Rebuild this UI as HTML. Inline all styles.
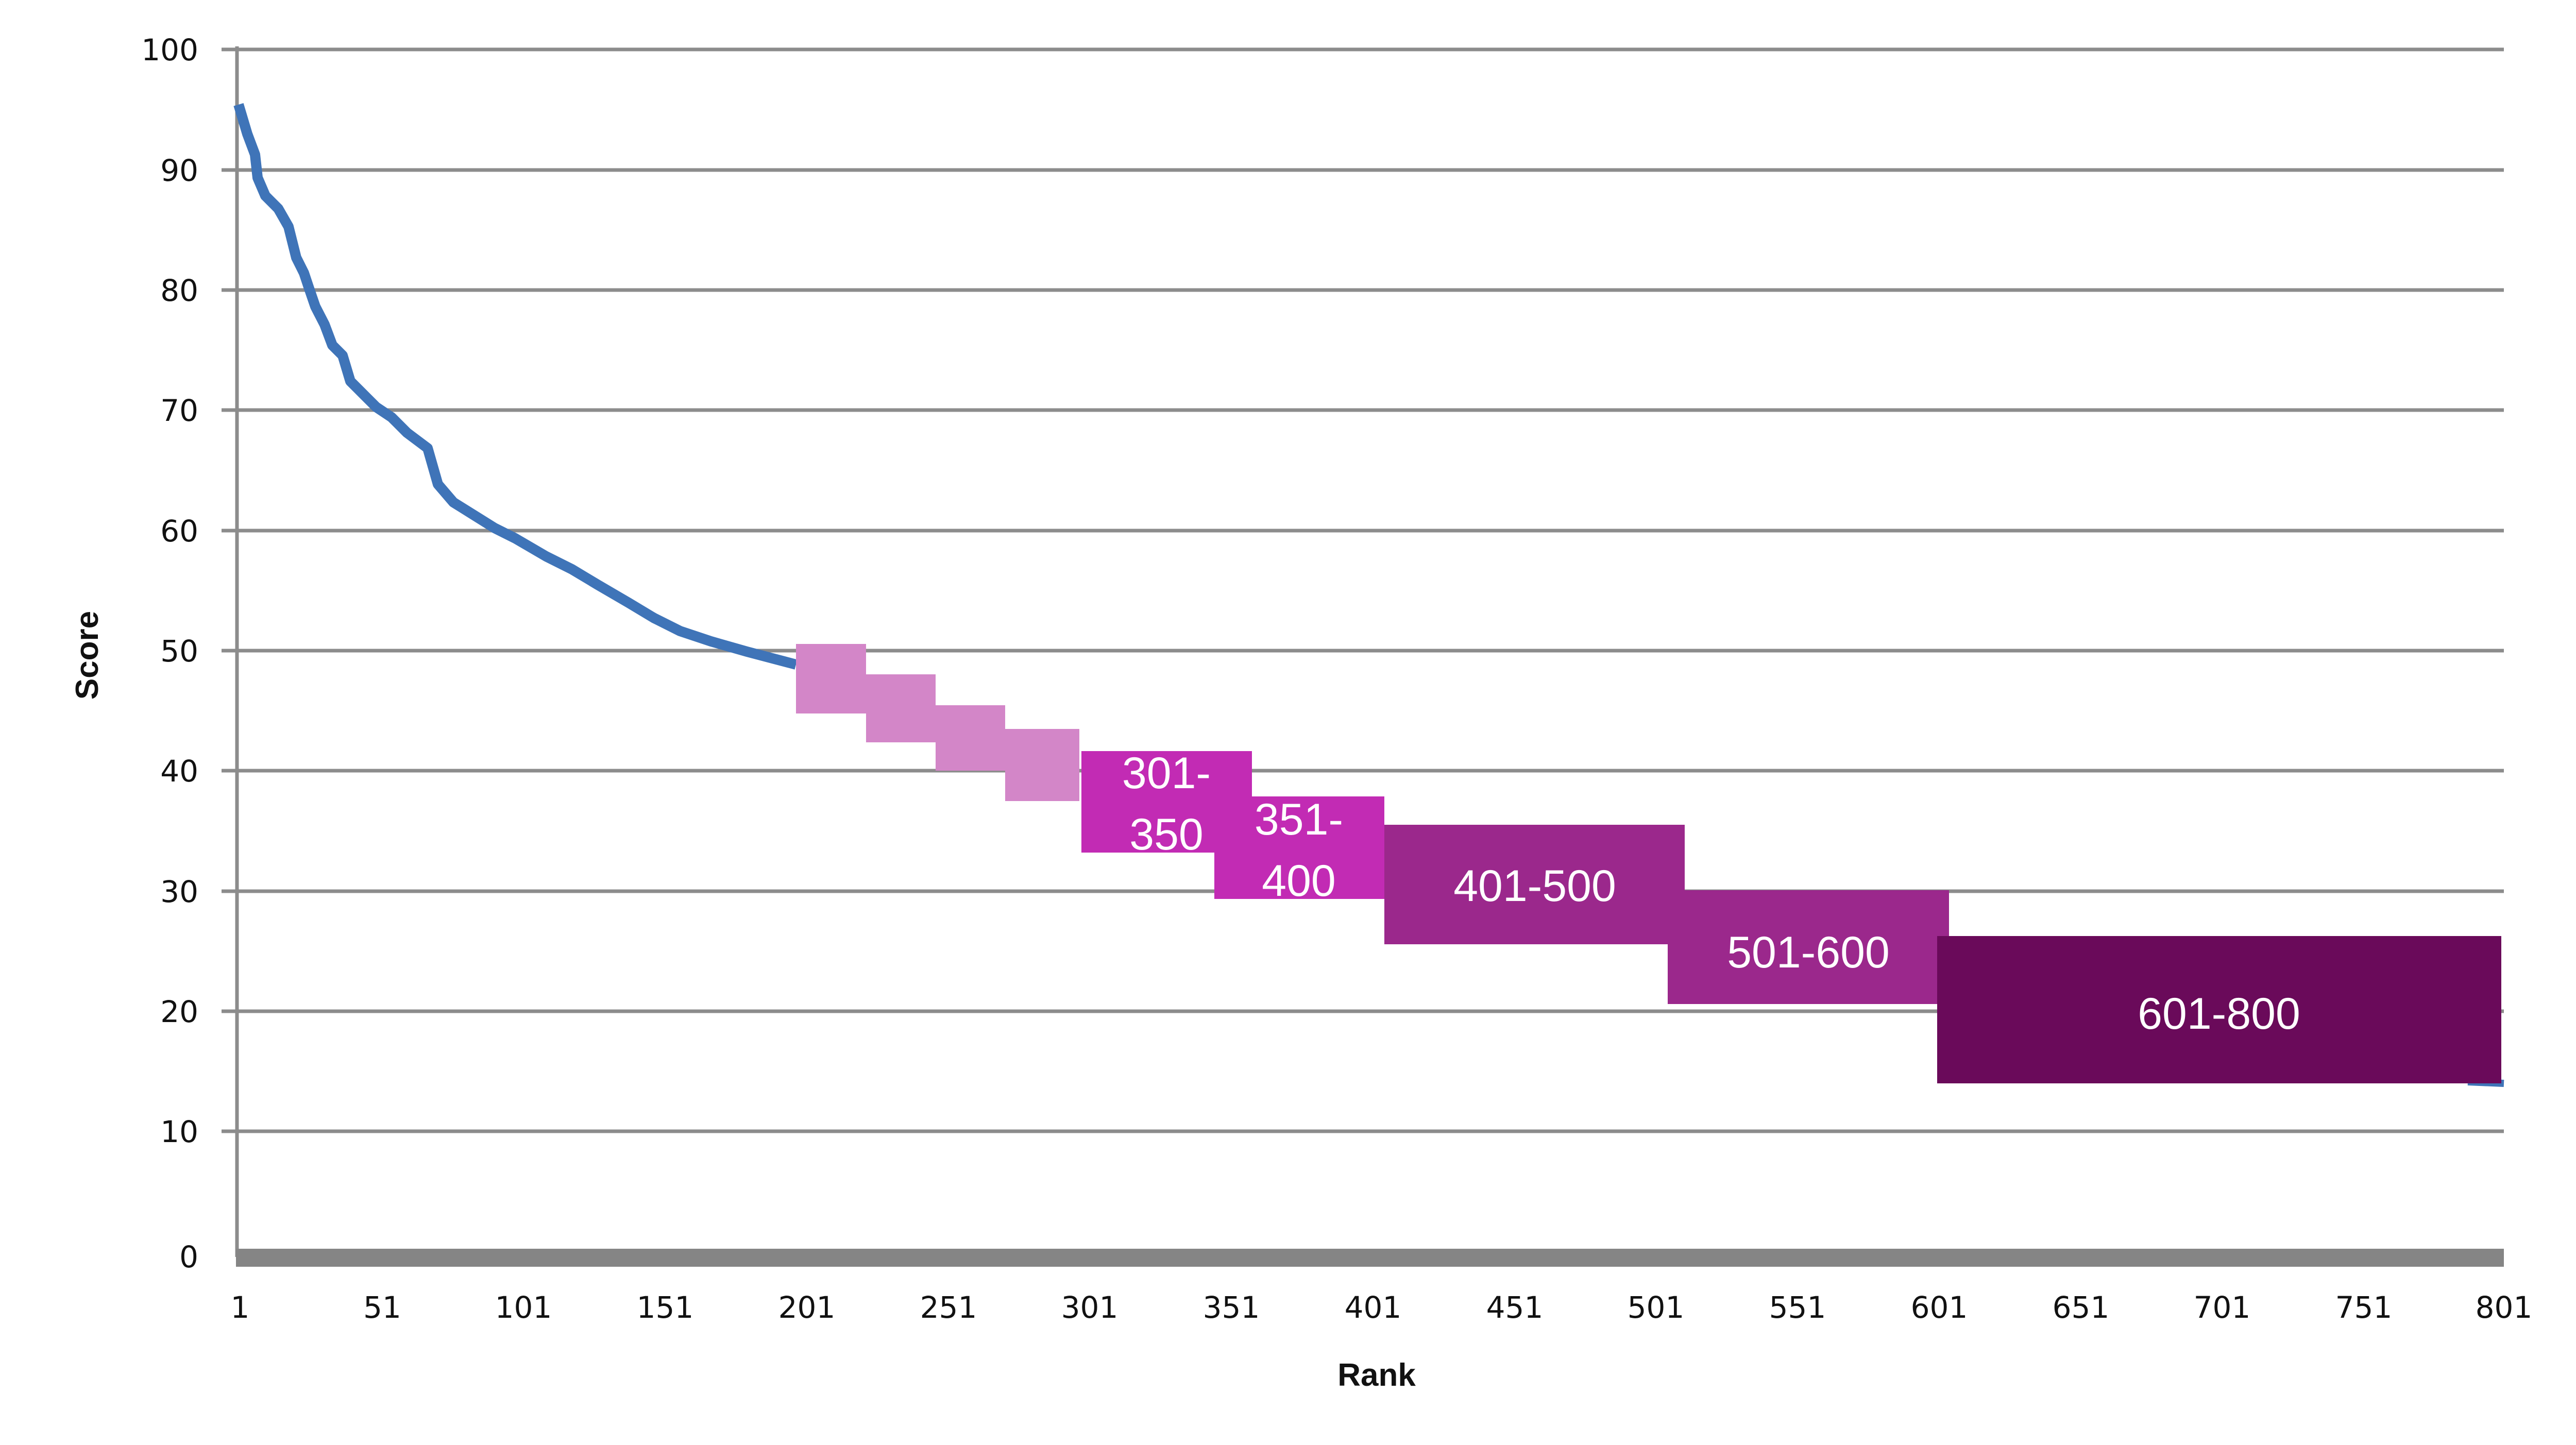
<!DOCTYPE html>
<html><head><meta charset="utf-8"><style>
html,body{margin:0;padding:0;background:#fff;}
svg{display:block;}
</style></head><body>
<svg width="5019" height="2805" viewBox="0 0 5019 2805" xmlns="http://www.w3.org/2000/svg" font-family="Liberation Sans, sans-serif">
<rect width="5019" height="2805" fill="#fff"/>
<g stroke="#8c8c8c" stroke-width="7">
<line x1="430" y1="96" x2="4860" y2="96"/>
<line x1="430" y1="330" x2="4860" y2="330"/>
<line x1="430" y1="563" x2="4860" y2="563"/>
<line x1="430" y1="796" x2="4860" y2="796"/>
<line x1="430" y1="1030" x2="4860" y2="1030"/>
<line x1="430" y1="1263" x2="4860" y2="1263"/>
<line x1="430" y1="1496" x2="4860" y2="1496"/>
<line x1="430" y1="1730" x2="4860" y2="1730"/>
<line x1="430" y1="1963" x2="4860" y2="1963"/>
<line x1="430" y1="2196" x2="4860" y2="2196"/>
<line x1="460" y1="90" x2="460" y2="2440"/>
</g>
<rect x="458" y="2424" width="4402" height="35" fill="#858585"/>
<g font-size="58" fill="#111" text-anchor="end" font-family="DejaVu Sans, sans-serif">
<text x="385" y="117">100</text><text x="385" y="351">90</text><text x="385" y="584">80</text>
<text x="385" y="817">70</text><text x="385" y="1051">60</text><text x="385" y="1284">50</text>
<text x="385" y="1517">40</text><text x="385" y="1751">30</text><text x="385" y="1984">20</text>
<text x="385" y="2217">10</text><text x="385" y="2460">0</text>
</g>
<g font-size="58" fill="#111" text-anchor="middle" font-family="DejaVu Sans, sans-serif">
<text x="466" y="2558">1</text><text x="742" y="2558">51</text><text x="1016" y="2558">101</text>
<text x="1291" y="2558">151</text><text x="1566" y="2558">201</text><text x="1841" y="2558">251</text>
<text x="2115" y="2558">301</text><text x="2390" y="2558">351</text><text x="2665" y="2558">401</text>
<text x="2940" y="2558">451</text><text x="3214" y="2558">501</text><text x="3489" y="2558">551</text>
<text x="3764" y="2558">601</text><text x="4039" y="2558">651</text><text x="4313" y="2558">701</text>
<text x="4588" y="2558">751</text><text x="4860" y="2558">801</text>
</g>
<text x="2672" y="2690" font-size="62" font-weight="bold" text-anchor="middle" fill="#111">Rank</text>
<text transform="translate(190,1272) rotate(-90)" font-size="62" font-weight="bold" text-anchor="middle" fill="#111">Score</text>
<polyline fill="none" stroke="#3f74b8" stroke-width="20" stroke-linejoin="round" points="463,203 480,260 495,300 500,345 515,380 540,405 560,440 575,500 590,530 600,560 612,595 630,630 645,670 665,690 680,740 700,760 730,790 760,810 790,840 830,870 850,940 880,975 920,1000 960,1025 1000,1045 1060,1080 1110,1105 1160,1135 1220,1170 1270,1200 1320,1225 1380,1245 1450,1265 1545,1290"/>
<line x1="4790" y1="2100" x2="4860" y2="2103" stroke="#3f74b8" stroke-width="14"/>
<rect x="1545" y="1250" width="136" height="135" fill="#d386c8"/>
<rect x="1681" y="1309" width="135" height="132" fill="#d386c8"/>
<rect x="1816" y="1369" width="135" height="127" fill="#d386c8"/>
<rect x="1951" y="1415" width="144" height="140" fill="#d386c8"/>
<rect x="2099" y="1458" width="331" height="197" fill="#c22bb4"/>
<rect x="2357" y="1546" width="330" height="199" fill="#c22bb4"/>
<rect x="2687" y="1601" width="583" height="232" fill="#9b288c"/>
<rect x="3237" y="1728" width="546" height="221" fill="#9b288c"/>
<rect x="3760" y="1817" width="1095" height="286" fill="#6a0a5a"/>
<g fill="#fff" font-size="86" text-anchor="middle">
<text x="2264" y="1530">301-</text><text x="2264" y="1649">350</text>
<text x="2521" y="1620">351-</text><text x="2521" y="1739">400</text>
<text x="2979" y="1749">401-500</text>
<text x="3510" y="1878">501-600</text>
<text x="4307" y="1997">601-800</text>
</g>
</svg>
</body></html>
